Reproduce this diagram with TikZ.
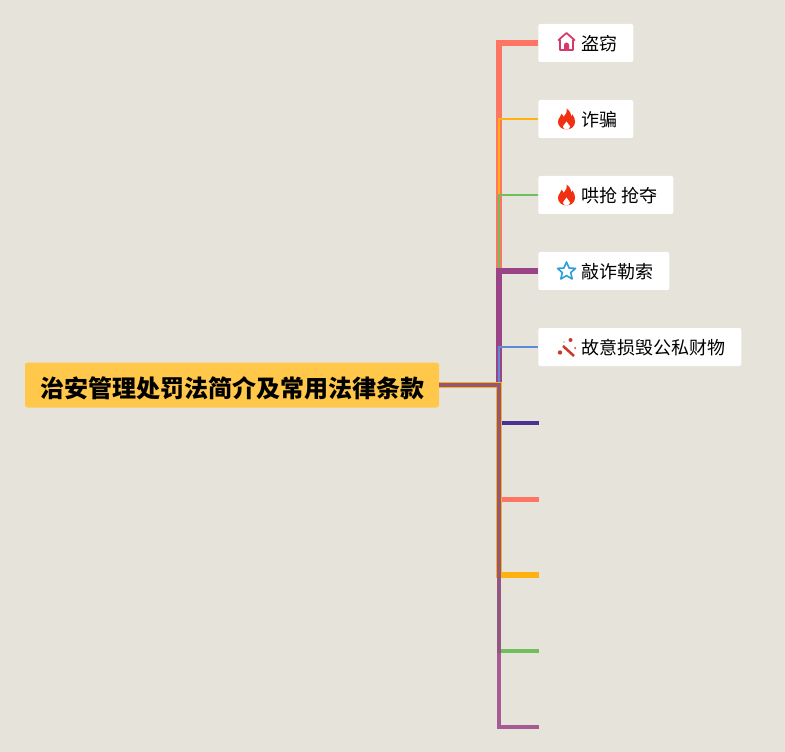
\documentclass[tikz,border=0pt]{standalone}
\usepackage{fontspec}
\setmainfont{Noto Sans CJK SC}
\definecolor{paper}{HTML}{E6E3DB}
\definecolor{rootfill}{HTML}{FFC84A}
\definecolor{salmon}{HTML}{FF7563}
\definecolor{amber}{HTML}{FFB20F}
\definecolor{leaf}{HTML}{6FBF5C}
\definecolor{plum}{HTML}{9A4487}
\definecolor{sky}{HTML}{5B8DD6}
\definecolor{indigo}{HTML}{4B3190}
\definecolor{flame}{HTML}{F03010}
\definecolor{rose}{HTML}{D63A6A}
\definecolor{star}{HTML}{2A9FDB}
\definecolor{wand}{HTML}{C93A2A}
\newcommand{\itemtext}[1]{\hspace*{32.25pt}\smash{\raisebox{-5.9pt}{#1}}\hspace*{12pt}}
\newcommand{\roottext}[1]{\smash{\raisebox{-9.1pt}{#1}}}
\tikzset{
	itembox/.style = {fill = white, rounded corners = 1.5pt, inner xsep = 0pt, inner ysep = 0pt, minimum height = 28.5pt, anchor = west, font = \fontsize{13.5}{16}\selectfont},
	rootbox/.style = {fill = rootfill, rounded corners = 2pt, inner xsep = 0pt, inner ysep = 0pt, minimum width = 310.5pt, minimum height = 33.75pt, font = \fontsize{18}{22}\selectfont\bfseries},
	link/.style = {line width = #1 * 0.75pt, line join = miter},
	house/.pic = {
		\draw[rose, line width = 1.3pt, line join = round] (-8, -2) -- (0, -9) -- (8, -2) -- (6.5, -2) -- (6.5, 8) -- (-6.5, 8) -- (-6.5, -2) -- cycle;
		\fill[rose] (-2.5, 8) -- (-2.5, 3) arc (180:360:2.5) -- (2.5, 8) -- cycle;
	},
	fire/.pic = {
		\fill[flame] (0, 10.5) .. controls (-5, 10.5) and (-8.5, 7) .. (-8.5, 3) .. controls (-8.5, -1) and (-5.5, -2) .. (-5, -5) .. controls (-3.5, -4) and (-3, -3) .. (-3, -2) .. controls (-1, -4) and (1, -7) .. (0, -10.5) .. controls (4, -8) and (5, -4) .. (4.5, -2) .. controls (5.5, -2.5) and (6, -3.5) .. (6, -4.5) .. controls (8, -2) and (8.5, 1) .. (8.5, 3) .. controls (8.5, 7) and (5, 10.5) .. (0, 10.5) -- cycle;
		\fill[white] (0, 10.6) .. controls (-2.5, 10.6) and (-3.5, 8.5) .. (-3.5, 7.5) .. controls (-3.5, 6) and (-1, 5) .. (0, 2.5) .. controls (1, 5) and (3.5, 6) .. (3.5, 7.5) .. controls (3.5, 8.5) and (2.5, 10.6) .. (0, 10.6) -- cycle;
	},
	starpic/.pic = {
		\draw[star, line width = 1.2pt, line join = round] (0, -9) -- (2.6, -3) -- (9, -2.6) -- (4.2, 1.6) -- (5.7, 8) -- (0, 4.6) -- (-5.7, 8) -- (-4.2, 1.6) -- (-9, -2.6) -- (-2.6, -3) -- cycle;
	},
	wandpic/.pic = {
		\draw[wand, line width = 1.9pt] (-3.5, -1) -- (7.5, 9);
		\fill[wand] (4, -7) circle (2);
		\fill[wand] (-6.5, 5.5) circle (2.2);
		\fill[wand] (8.5, 1) circle (1);
		\fill[wand] (-2.5, -5) circle (0.7);
	}
}

\begin{document}
\begin{tikzpicture}[x = 0.75pt, y = -0.75pt]
	 \useasboundingbox[fill = paper] (0, 0) rectangle (785, 752);

	 \node[rootbox] (root) at (232, 385) {\roottext{治安管理处罚法简介及常用法律条款}};

	 \node[itembox] (daoqie) at (538, 43) {\itemtext{盗窃}};
	 \node[itembox] (zhapian) at (538, 119) {\itemtext{诈骗}};
	 \node[itembox] (qiangduo) at (538, 195) {\itemtext{哄抢 抢夺}};
	 \node[itembox] (qiaozha) at (538, 271) {\itemtext{敲诈勒索}};
	 \node[itembox] (sunhui) at (538, 347) {\itemtext{故意损毁公私财物}};

	 \pic at (566.5, 42) {house};
	 \pic at (566.5, 119) {fire};
	 \pic at (566.5, 195) {fire};
	 \pic at (566.5, 271) {starpic};
	 \pic at (566.5, 347) {wandpic};

	 \coordinate (trunk) at (499, 385);
	 \coordinate (end1) at (539, 423);
	 \coordinate (end2) at (539, 499);
	 \coordinate (end3) at (539, 575);
	 \coordinate (end4) at (539, 651);
	 \coordinate (end5) at (539, 727);

	 \draw[link = 6, salmon] (root.east |- trunk) -- (trunk) |- (daoqie.west);
	 \draw[link = 2, amber] (root.east |- trunk) -- (trunk) |- (zhapian.west);
	 \draw[link = 2, leaf] (root.east |- trunk) -- (trunk) |- (qiangduo.west);
	 \draw[link = 6, plum] (root.east |- trunk) -- (trunk) |- (qiaozha.west);
	 \draw[link = 2, sky] (root.east |- trunk) -- (trunk) |- (sunhui.west);
	 \draw[link = 4, indigo] (root.east |- trunk) -- (trunk) |- (end1);
	 \draw[link = 5, salmon] (root.east |- trunk) -- (trunk) |- (end2);
	 \draw[link = 6, amber] (root.east |- trunk) -- (trunk) |- (end3);
	 \draw[link = 4, leaf] (root.east |- trunk) -- (trunk) |- (end4);
	 \draw[link = 4, plum, opacity = 0.85] (root.east |- trunk) -- (trunk) |- (end5);
\end{tikzpicture}
\end{document}
